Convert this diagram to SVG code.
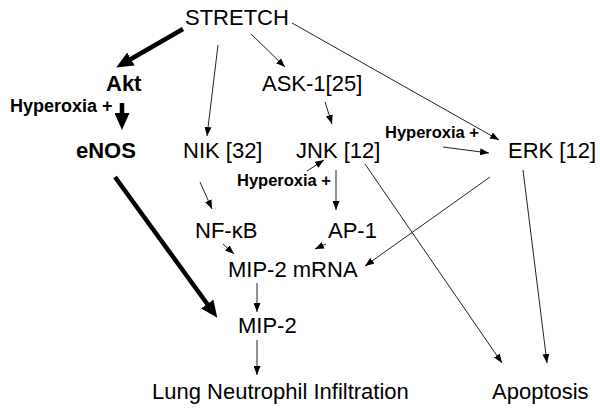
<svg xmlns="http://www.w3.org/2000/svg" width="600" height="408" viewBox="0 0 600 408">
<defs>
<style>
text{font-family:"Liberation Sans",Arial,sans-serif;fill:#000}
.n{font-size:22px}
.b{font-size:22px;font-weight:bold}
.h{font-size:16.5px;font-weight:bold}
.thin{stroke:#222;stroke-width:1;fill:none;marker-end:url(#ah)}
.thick{stroke:#000;stroke-width:4.5;fill:none;marker-end:url(#AH)}
</style>
<marker id="ah" markerUnits="userSpaceOnUse" markerWidth="9" markerHeight="7" refX="9" refY="3.5" orient="auto"><path d="M0,0 L9,3.5 L0,7 z" fill="#000"/></marker>
<marker id="AH" markerUnits="userSpaceOnUse" markerWidth="17" markerHeight="15" refX="8" refY="7.5" orient="auto"><path d="M0,0 L17,7.5 L0,15 z" fill="#000"/></marker>
</defs>
<rect width="600" height="408" fill="#fff"/>
<g id="connectors">
<line class="thick" x1="183" y1="29" x2="124" y2="63"/>
<line class="thick" x1="122" y1="103" x2="122" y2="121"/>
<line class="thick" x1="115" y1="177" x2="212" y2="310.5"/>
<line class="thin" x1="218" y1="45" x2="207" y2="136"/>
<line class="thin" x1="251" y1="34" x2="285" y2="67"/>
<line class="thin" x1="292" y1="23" x2="499" y2="140"/>
<line class="thin" x1="325" y1="102" x2="332" y2="124"/>
<line class="thin" x1="443" y1="147" x2="489" y2="153"/>
<line class="thin" x1="307" y1="171" x2="324" y2="160"/>
<line class="thin" x1="336" y1="170" x2="336" y2="210"/>
<line class="thin" x1="200" y1="182" x2="212" y2="209"/>
<line class="thin" x1="223" y1="244" x2="234" y2="254"/>
<line class="thin" x1="326" y1="244" x2="315" y2="249"/>
<line class="thin" x1="490" y1="177" x2="365" y2="266"/>
<line class="thin" x1="365" y1="164" x2="502" y2="363"/>
<line class="thin" x1="523" y1="170" x2="547" y2="363"/>
<line class="thin" x1="257" y1="283" x2="257" y2="312"/>
<line class="thin" x1="257" y1="340" x2="257" y2="375"/>
</g>
<g id="stretch"><text class="n" x="185" y="25">STRETCH</text></g>
<g id="akt"><text class="b" x="106" y="91">Akt</text></g>
<g id="hyperoxia1"><text class="h" x="10" y="112" style="font-size:18px">Hyperoxia +</text></g>
<g id="enos"><text class="b" x="76" y="158">eNOS</text></g>
<g id="nik"><text class="n" x="183" y="158">NIK [32]</text></g>
<g id="ask1"><text class="n" x="262" y="91">ASK-1[25]</text></g>
<g id="jnk"><text class="n" x="296" y="158">JNK [12]</text></g>
<g id="hyperoxia2"><text class="h" x="385" y="138">Hyperoxia +</text></g>
<g id="hyperoxia3"><text class="h" x="237" y="186">Hyperoxia +</text></g>
<g id="erk"><text class="n" x="508" y="158">ERK [12]</text></g>
<g id="nfkb"><text class="n" x="195" y="238">NF-κB</text></g>
<g id="ap1"><text class="n" x="328" y="238">AP-1</text></g>
<g id="mip2mrna"><text class="n" x="228" y="277">MIP-2 mRNA</text></g>
<g id="mip2"><text class="n" x="238" y="333">MIP-2</text></g>
<g id="lung"><text class="n" x="152" y="399">Lung Neutrophil Infiltration</text></g>
<g id="apoptosis"><text class="n" x="492" y="399">Apoptosis</text></g>
</svg>
